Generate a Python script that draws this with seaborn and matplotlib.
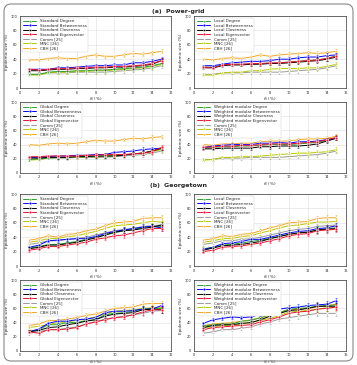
import numpy as np
import pandas as pd
import matplotlib
matplotlib.use("Agg")
import matplotlib.pyplot as plt
import seaborn as sns
from matplotlib.patches import FancyBboxPatch

# x values (f_0 in %)
f0 = [1, 2, 3, 4, 5, 6, 7, 8, 9, 10, 11, 12, 13, 14, 15]

centralities = ["Degree", "Betweenness", "Closeness", "Eigenvector"]
baselines = ["Comm [25]", "MNC [26]", "CBH [26]"]
prefixes = ["Standard", "Local", "Global", "Weighted modular"]

# series order: Degree, Betweenness, Closeness, Eigenvector, Comm, MNC, CBH
pg_standard = [
    [19, 19, 22, 23, 23, 24, 24, 25, 25, 26, 27, 28, 29, 31, 34],
    [26, 26, 26, 28, 28, 29, 30, 31, 31, 32, 32, 35, 35, 37, 40],
    [24, 24, 25, 26, 26, 27, 27, 28, 28, 29, 29, 30, 31, 33, 38],
    [26, 25, 26, 27, 27, 28, 28, 29, 29, 30, 30, 31, 32, 34, 38],
    [19, 19, 21, 21, 21, 22, 22, 22, 22, 23, 24, 25, 26, 28, 31],
    [18, 18, 21, 22, 22, 23, 23, 24, 24, 25, 26, 27, 28, 30, 33],
    [39, 39, 41, 42, 41, 41, 44, 46, 44, 44, 46, 48, 47, 49, 51],
]
pg_local = [
    [29, 29, 32, 33, 33, 33, 34, 34, 35, 36, 37, 38, 39, 41, 45],
    [31, 31, 33, 35, 36, 37, 37, 38, 40, 40, 42, 43, 43, 45, 46],
    [28, 28, 31, 32, 32, 33, 33, 34, 34, 35, 36, 37, 38, 40, 43],
    [29, 28, 32, 33, 33, 34, 34, 35, 35, 36, 37, 38, 39, 41, 44],
    [19, 19, 21, 21, 21, 22, 22, 22, 22, 23, 24, 25, 26, 28, 31],
    [18, 18, 21, 22, 22, 24, 24, 26, 27, 27, 27, 28, 28, 30, 33],
    [40, 39, 41, 42, 41, 43, 46, 44, 46, 47, 48, 49, 48, 49, 51],
]
pg_global = [
    [19, 20, 21, 22, 22, 23, 23, 23, 24, 24, 25, 27, 28, 31, 34],
    [22, 22, 23, 24, 24, 25, 25, 26, 26, 29, 30, 31, 33, 34, 35],
    [21, 21, 22, 22, 22, 23, 23, 24, 24, 24, 25, 27, 28, 31, 35],
    [23, 23, 24, 24, 24, 24, 25, 25, 26, 26, 26, 27, 28, 30, 36],
    [19, 19, 21, 21, 21, 22, 22, 22, 22, 23, 24, 25, 26, 28, 31],
    [18, 19, 21, 22, 22, 22, 23, 23, 23, 24, 25, 27, 28, 30, 33],
    [40, 39, 41, 42, 41, 42, 44, 46, 45, 45, 47, 49, 48, 50, 51],
]
pg_weighted = [
    [35, 36, 37, 37, 38, 38, 39, 40, 40, 40, 41, 42, 43, 46, 50],
    [36, 38, 39, 40, 40, 40, 42, 42, 43, 42, 44, 44, 45, 47, 49],
    [34, 34, 35, 35, 35, 35, 37, 37, 38, 38, 38, 39, 41, 45, 49],
    [36, 37, 38, 38, 39, 39, 40, 41, 41, 41, 42, 43, 44, 47, 50],
    [19, 19, 21, 21, 21, 22, 22, 22, 22, 23, 24, 25, 26, 28, 31],
    [18, 19, 22, 22, 23, 23, 24, 25, 26, 27, 28, 28, 29, 30, 33],
    [40, 39, 41, 41, 42, 42, 44, 45, 45, 45, 47, 48, 48, 49, 52],
]
gt_standard = [
    [25, 27, 30, 30, 32, 34, 37, 40, 43, 46, 49, 51, 53, 55, 55],
    [26, 29, 35, 36, 37, 38, 38, 41, 45, 48, 50, 52, 54, 55, 53],
    [24, 26, 29, 29, 31, 33, 36, 39, 43, 47, 49, 50, 52, 54, 57],
    [22, 24, 27, 27, 29, 31, 33, 37, 39, 42, 43, 46, 49, 52, 52],
    [30, 32, 35, 35, 37, 38, 40, 43, 46, 49, 51, 52, 55, 56, 57],
    [33, 35, 38, 38, 41, 42, 45, 48, 52, 56, 57, 58, 60, 62, 61],
    [36, 38, 42, 40, 44, 45, 49, 51, 56, 60, 61, 62, 66, 67, 67],
]
gt_local = [
    [24, 26, 29, 30, 32, 34, 36, 38, 41, 44, 46, 47, 50, 52, 53],
    [23, 26, 31, 32, 34, 37, 37, 40, 43, 46, 48, 49, 52, 53, 56],
    [22, 25, 28, 29, 30, 32, 34, 38, 41, 44, 46, 47, 50, 51, 52],
    [20, 22, 26, 27, 28, 30, 32, 35, 38, 42, 44, 45, 49, 50, 51],
    [30, 32, 35, 35, 37, 38, 40, 43, 46, 49, 51, 52, 55, 56, 57],
    [33, 35, 38, 38, 41, 42, 46, 49, 53, 56, 57, 59, 61, 61, 62],
    [36, 38, 42, 41, 44, 45, 49, 53, 56, 60, 61, 62, 66, 67, 67],
]
gt_global = [
    [28, 30, 37, 37, 40, 40, 43, 44, 51, 53, 54, 56, 59, 60, 60],
    [27, 31, 39, 42, 42, 44, 45, 47, 54, 56, 56, 57, 59, 59, 64],
    [27, 29, 33, 34, 37, 39, 42, 44, 49, 52, 53, 54, 58, 59, 58],
    [27, 25, 30, 30, 31, 33, 38, 41, 44, 47, 48, 51, 55, 58, 58],
    [25, 27, 30, 30, 32, 34, 38, 41, 45, 47, 49, 51, 53, 56, 57],
    [33, 35, 37, 40, 41, 43, 45, 48, 52, 56, 57, 58, 60, 61, 61],
    [36, 38, 43, 43, 45, 47, 50, 52, 56, 60, 61, 62, 66, 67, 67],
]
gt_weighted = [
    [35, 37, 38, 38, 42, 43, 47, 51, 54, 59, 60, 61, 63, 64, 65],
    [39, 44, 46, 48, 47, 48, 52, 54, 59, 61, 62, 64, 65, 66, 71],
    [33, 36, 37, 37, 39, 40, 44, 49, 53, 57, 58, 60, 63, 63, 63],
    [30, 33, 34, 35, 36, 37, 41, 44, 48, 53, 55, 56, 59, 60, 62],
    [25, 27, 30, 30, 32, 34, 38, 41, 45, 47, 49, 51, 53, 53, 53],
    [33, 34, 36, 36, 38, 40, 43, 46, 50, 55, 56, 57, 59, 61, 62],
    [36, 38, 39, 40, 42, 44, 47, 49, 53, 58, 59, 60, 62, 64, 66],
]

# rough error bar half-widths
pg_err = [1.5, 1.5, 1.5, 2, 2, 2, 2, 2.5, 2.5, 2.5, 2.5, 3, 3, 3, 3]
gt_err = [2, 2, 2, 2.5, 2.5, 2.5, 3, 3, 3, 3.5, 3.5, 3.5, 4, 4, 4]

colors = ["#2ca02c", "#0000ff", "#000000", "#e8112d", "#999999", "#b8c800", "#f5a623"]
markers = ["^", "o", "s", "o", "+", "v", "^"]

W, H = 357, 365
fig = plt.figure(figsize=(W / 100, H / 100), dpi=100)
sns.set_style("whitegrid")

# rounded frame around the whole figure
frame = FancyBboxPatch((4 / W, 4 / H), 1 - 8 / W, 1 - 8 / H,
                       boxstyle="round,pad=0,rounding_size=0.02",
                       transform=fig.transFigure, fill=False,
                       edgecolor="#888888", linewidth=0.8)
fig.patches.append(frame)

fig.text(0.5, 1 - 11 / H, "(a)  Power-grid", ha="center", va="center",
         fontsize=4.5, fontweight="bold")
fig.text(0.5, 1 - 186 / H, "(b)  Georgetown", ha="center", va="center",
         fontsize=4.5, fontweight="bold")

cols = [(20, 171), (194, 346)]
rows = [(16, 88), (102, 173), (194, 266), (280, 351)]
panels = [
    (pg_standard, pg_err, 0, 0, 0), (pg_local, pg_err, 1, 0, 1),
    (pg_global, pg_err, 2, 1, 0), (pg_weighted, pg_err, 3, 1, 1),
    (gt_standard, gt_err, 0, 2, 0), (gt_local, gt_err, 1, 2, 1),
    (gt_global, gt_err, 2, 3, 0), (gt_weighted, gt_err, 3, 3, 1),
]

for series, err, pi, r, c in panels:
    x0, x1 = cols[c]
    y0, y1 = rows[r]
    ax = fig.add_axes([x0 / W, 1 - y1 / H, (x1 - x0) / W, (y1 - y0) / H])
    names = [f"{prefixes[pi]} {n}" for n in centralities] + baselines
    # draw baselines first, centrality lines on top
    order = [4, 5, 6, 0, 1, 2, 3]
    for k in order:
        ax.errorbar(f0, series[k], yerr=err, fmt="none", ecolor=colors[k],
                    elinewidth=0.4, capsize=0.8, capthick=0.4, alpha=0.8)
        sns.lineplot(x=f0, y=series[k], ax=ax, color=colors[k], marker=markers[k],
                     markersize=2, markeredgewidth=0.4, linewidth=0.7,
                     label=names[k])
    ax.set_xlim(0, 16)
    ax.set_ylim(0, 100)
    ax.set_xticks(range(0, 17, 2))
    ax.set_yticks(range(0, 101, 20))
    ax.tick_params(labelsize=2.5, length=1, width=0.3, pad=0.8)
    ax.grid(True, color="#dddddd", linewidth=0.4)
    for s in ax.spines.values():
        s.set_edgecolor("#333333")
        s.set_linewidth(0.5)
    ax.set_xlabel("$f_0$ (%)", fontsize=3, labelpad=0.5)
    ax.set_ylabel("Epidemic size (%)", fontsize=3, labelpad=1)
    handles, labels = ax.get_legend_handles_labels()
    idx = [labels.index(n) for n in names]
    ax.legend([handles[i] for i in idx], [labels[i] for i in idx],
              loc="upper left", fontsize=2.9, frameon=True, borderpad=0.35,
              labelspacing=0.12, handlelength=3.2, handletextpad=0.8,
              framealpha=1, edgecolor="#cccccc").get_frame().set_linewidth(0.3)

fig.savefig("out.png", dpi=100)
